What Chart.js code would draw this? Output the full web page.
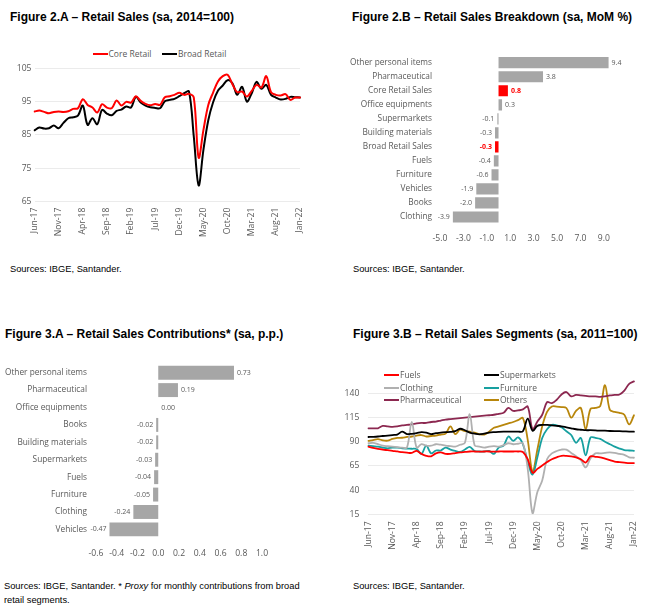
<!DOCTYPE html>
<html>
<head>
<meta charset="utf-8">
<script src="https://cdn.jsdelivr.net/npm/chart.js@4.4.1/dist/chart.umd.min.js"></script>
<style>
  body { margin: 0; background: #fff; width: 652px; height: 614px; position: relative; overflow: hidden; }
  .title { position: absolute; font: bold 12px "Liberation Sans", Arial, sans-serif; line-height: 14px; color: #000; white-space: nowrap; }
  .src { position: absolute; font: 9.3px "Liberation Sans", Arial, sans-serif; line-height: 14px; color: #000; white-space: nowrap; }
  canvas { position: absolute; }
  .lg { position: absolute; font: 8.5px "Open Sans", sans-serif; line-height: 12px; color: #595959; white-space: nowrap; }
  .lg i { display: inline-block; width: 15px; height: 2px; vertical-align: middle; margin-right: 1px; position: relative; top: -1px; }
</style>
</head>
<body>

<div class="title" style="left:10px; top:10px;">Figure 2.A – Retail Sales (sa, 2014=100)</div>
<div class="title" style="left:352px; top:10px;">Figure 2.B – Retail Sales Breakdown (sa, MoM %)</div>
<div class="title" style="left:5px; top:327px;">Figure 3.A – Retail Sales Contributions* (sa, p.p.)</div>
<div class="title" style="left:353px; top:327px;">Figure 3.B – Retail Sales Segments (sa, 2011=100)</div>

<canvas id="c2a" width="326" height="190" style="left:0; top:60px;"></canvas>
<canvas id="c2b" width="326" height="210" style="left:326px; top:40px;"></canvas>
<canvas id="c3a" width="326" height="220" style="left:0; top:350px;"></canvas>
<canvas id="c3b" width="326" height="200" style="left:326px; top:360px;"></canvas>

<div id="legends"></div>

<div class="src" style="left:10px; top:262px;">Sources: IBGE, Santander.</div>
<div class="src" style="left:353px; top:262px;">Sources: IBGE, Santander.</div>
<div class="src" style="left:4px; top:579px;">Sources: IBGE, Santander. * <i>Proxy</i> for monthly contributions from broad<br>retail segments.</div>
<div class="src" style="left:353px; top:579px;">Sources: IBGE, Santander.</div>

<script>
// ---- data ----
const months = [
  "Jun-17", "Jul-17", "Aug-17", "Sep-17", "Oct-17", "Nov-17", "Dec-17",
  "Jan-18", "Feb-18", "Mar-18", "Apr-18", "May-18", "Jun-18", "Jul-18", "Aug-18", "Sep-18", "Oct-18", "Nov-18", "Dec-18",
  "Jan-19", "Feb-19", "Mar-19", "Apr-19", "May-19", "Jun-19", "Jul-19", "Aug-19", "Sep-19", "Oct-19", "Nov-19", "Dec-19",
  "Jan-20", "Feb-20", "Mar-20", "Apr-20", "May-20", "Jun-20", "Jul-20", "Aug-20", "Sep-20", "Oct-20", "Nov-20", "Dec-20",
  "Jan-21", "Feb-21", "Mar-21", "Apr-21", "May-21", "Jun-21", "Jul-21", "Aug-21", "Sep-21", "Oct-21", "Nov-21", "Dec-21",
  "Jan-22"
];

// Figure 2.A
const coreRetail = [
  92.0, 92.3, 91.9, 91.5, 91.9, 92.0, 91.9,
  92.1, 92.8, 93.0, 95.7, 94.0, 93.2, 91.7, 94.2, 93.2, 93.0, 95.3, 93.8,
  94.9, 94.7, 96.6, 95.2, 94.3, 93.9, 94.3, 94.0, 96.3, 96.6, 97.0, 97.6,
  97.0, 97.3, 96.2, 78.2, 86.5, 94.0, 97.7, 101.0, 102.6, 103.0, 100.2, 97.8,
  98.0, 96.5, 98.2, 100.0, 99.2, 102.6, 97.8, 97.0, 96.8, 97.2, 95.5, 96.2,
  96.2
];
const broadRetail = [
  86.4, 87.2, 86.9, 87.0, 87.8, 87.0, 88.6,
  90.0, 90.3, 90.8, 93.8, 88.0, 90.0, 88.2, 92.5, 91.4, 90.9, 92.2, 92.6,
  93.5, 93.2, 96.4, 94.7, 93.8, 93.3, 93.1, 93.0, 95.1, 95.5, 95.8, 96.6,
  97.5, 98.0, 84.5, 69.9, 80.6, 89.4, 94.8, 98.2, 99.8, 101.4, 100.5, 97.0,
  99.4, 95.0, 97.5, 100.9, 98.8, 100.0, 97.0, 96.2, 95.6, 95.8, 96.4, 96.3,
  96.2
];
const ticks2A = [65, 75, 85, 95, 105];

// Figure 2.B
const breakdownCats = ["Other personal items", "Pharmaceutical", "Core Retail Sales", "Office equipments",
  "Supermarkets", "Building materials", "Broad Retail Sales", "Fuels", "Furniture", "Vehicles", "Books", "Clothing"];
const breakdownVals = [9.4, 3.8, 0.8, 0.3, -0.1, -0.3, -0.3, -0.4, -0.6, -1.9, -2.0, -3.9];
const breakdownHighlight = ["Core Retail Sales", "Broad Retail Sales"];
const ticks2B = [-5, -3, -1, 1, 3, 5, 7, 9];

// Figure 3.A
const contribCats = ["Other personal items", "Pharmaceutical", "Office equipments", "Books", "Building materials",
  "Supermarkets", "Fuels", "Furniture", "Clothing", "Vehicles"];
const contribVals = [0.73, 0.19, 0.00, -0.02, -0.02, -0.03, -0.04, -0.05, -0.24, -0.47];
const ticks3A = [-0.6, -0.4, -0.2, 0.0, 0.2, 0.4, 0.6, 0.8, 1.0];

// Figure 3.B
const fuels = [
  85.0, 83.8, 82.8, 82.0, 81.3, 80.6, 80.0,
  79.3, 78.8, 78.5, 80.7, 77.5, 75.5, 75.0, 78.0, 79.0, 77.5, 77.5, 78.3,
  79.0, 79.5, 80.0, 80.0, 79.8, 80.0, 80.0, 79.8, 80.0, 80.0, 80.0, 80.0,
  80.0, 79.5, 72.0, 58.0, 62.0, 65.5, 69.0, 72.0, 74.0, 75.5, 75.5, 75.0,
  74.0, 72.0, 68.5, 75.0, 74.5, 74.0, 72.5, 71.0, 69.5, 69.0, 68.5, 68.0,
  68.0
];
const supermarkets = [
  95.0, 95.2, 95.5, 96.0, 96.5, 97.0, 97.5,
  100.5, 98.0, 98.3, 99.0, 100.0, 99.5, 98.0, 99.0, 99.5, 100.0, 100.2, 101.0,
  103.5, 102.0, 99.5, 98.5, 97.8, 98.5, 99.5, 100.0, 100.3, 100.5, 100.5, 100.5,
  100.5, 101.0, 114.0, 101.5, 106.5, 107.5, 107.5, 107.0, 106.5, 106.0, 105.0, 104.0,
  103.0, 102.5, 102.0, 102.0, 101.8, 101.5, 101.5, 101.2, 101.0, 101.0, 100.8, 100.6,
  100.5
];
const clothing = [
  88.5, 89.0, 87.5, 86.0, 85.5, 85.0, 84.5,
  84.0, 84.0, 110.5, 84.0, 87.5, 86.0, 86.0, 87.5, 87.0, 86.0, 85.5, 85.0,
  87.0, 89.0, 118.5, 86.5, 85.0, 84.0, 85.0, 85.5, 85.0, 86.5, 88.5, 87.5,
  88.0, 88.5, 62.0, 16.0, 38.0, 50.0, 72.0, 78.0, 80.5, 82.0, 82.0, 78.5,
  75.0, 71.0, 63.5, 73.0, 78.0, 78.0, 78.5, 79.0, 78.5, 77.5, 76.5, 74.0,
  73.5
];
const furniture = [
  86.0, 85.5, 85.0, 84.0, 83.3, 84.0, 84.0,
  83.3, 83.0, 82.8, 82.5, 77.5, 86.0, 78.0, 81.0, 81.0, 84.0, 82.0, 80.5,
  79.5, 82.0, 84.8, 80.5, 80.0, 80.0, 80.5, 77.5, 84.0, 86.0, 95.5, 91.0,
  94.5, 87.5, 70.0, 56.0, 74.0, 94.0, 103.0, 107.5, 107.0, 105.0, 101.0, 97.0,
  89.0, 94.0, 76.0, 94.5, 94.0, 93.0, 90.0, 87.5, 85.0, 83.0, 81.5, 81.0,
  80.7
];
const pharmaceutical = [
  104.0, 104.0, 104.0, 106.5, 106.0, 105.5, 106.0,
  107.0, 107.5, 108.0, 109.0, 109.5, 109.5, 110.5, 111.0, 112.0, 113.0, 113.5, 114.0,
  114.5, 115.0, 115.5, 116.0, 116.5, 117.0, 117.5, 118.0, 119.0, 120.0, 125.0, 122.0,
  122.5, 123.5, 126.5, 103.0, 111.0, 118.0, 131.0, 130.0, 133.5, 139.0, 141.5, 137.0,
  138.5, 138.0, 137.5, 137.0, 137.0, 136.5, 137.0, 138.0, 138.5, 139.0, 143.0, 150.0,
  152.5
];
const others = [
  91.0, 91.8, 92.8, 91.5, 91.2, 93.0, 94.0,
  94.2, 95.0, 95.5, 96.5, 97.0, 95.5, 96.0, 96.5, 97.5, 98.5, 106.0, 98.0,
  102.5, 101.0, 100.5, 99.5, 98.0, 97.5, 100.5, 104.5, 106.0, 107.5, 109.0, 110.5,
  112.5, 114.5, 92.0, 59.0, 82.0, 106.0, 121.0, 126.5, 126.5, 126.0, 125.0, 115.0,
  122.0, 125.0, 103.0, 124.0, 125.0, 127.0, 148.5, 123.0, 121.0, 120.0, 118.0, 108.0,
  117.5
];
const ticks3B = [15, 40, 65, 90, 115, 140];

// ---- styling ----
Chart.defaults.font.family = '"Open Sans", sans-serif';
Chart.defaults.color = "#595959";
Chart.defaults.animation = false;

const GREY_BAR = "#a6a6a6";
const RED = "#ff0000";

function fixWidth(w) { return s => { s.width = w; }; }
function fixHeight(h) { return s => { s.height = h; }; }
function useTicks(list) { return s => { s.ticks = list.map(v => ({ value: v })); }; }

// value labels next to horizontal bars
const barLabels = {
  id: "barLabels",
  afterDatasetsDraw(chart, args, opts) {
    const ctx = chart.ctx;
    const ds = chart.data.datasets[0];
    const meta = chart.getDatasetMeta(0);
    ctx.save();
    ctx.textBaseline = "middle";
    meta.data.forEach((bar, i) => {
      const v = ds.data[i];
      const hot = opts.highlight && opts.highlight.includes(chart.data.labels[i]);
      ctx.fillStyle = hot ? RED : "#595959";
      ctx.font = (hot ? "bold " : "") + opts.size + 'px "Open Sans", sans-serif';
      const txt = v.toFixed(opts.decimals);
      if (v >= 0) {
        ctx.textAlign = "left";
        ctx.fillText(txt, bar.x + 3, bar.y);
      } else {
        ctx.textAlign = "right";
        ctx.fillText(txt, bar.x - 3, bar.y);
      }
    });
    ctx.restore();
  }
};

function lineChart(id, datasets, cfg) {
  return new Chart(document.getElementById(id), {
    type: "line",
    data: { labels: months, datasets: datasets },
    options: {
      responsive: false,
      layout: { padding: cfg.padding },
      elements: { point: { radius: 0 }, line: { tension: 0.35, borderCapStyle: "round" } },
      plugins: { legend: { display: false }, tooltip: { enabled: false } },
      scales: {
        x: {
          type: "category",
          offset: false,
          grid: { display: false, drawTicks: false },
          border: { display: false },
          afterFit: fixHeight(cfg.xHeight),
          ticks: {
            autoSkip: false, minRotation: 90, maxRotation: 90, padding: cfg.xPad,
            font: { size: 8.6 },
            callback: function (v, i) { return i % 5 === 0 ? this.getLabelForValue(v) : ""; }
          }
        },
        y: {
          min: cfg.min, max: cfg.max,
          grid: { color: "#ebebeb", drawTicks: false },
          border: { display: false },
          afterFit: fixWidth(cfg.yWidth),
          afterBuildTicks: useTicks(cfg.ticks),
          ticks: { padding: cfg.yPad, font: { size: 8.6 } }
        }
      }
    }
  });
}

function barChart(id, cats, vals, cfg) {
  return new Chart(document.getElementById(id), {
    type: "bar",
    data: {
      labels: cats,
      datasets: [{
        data: vals,
        backgroundColor: cats.map(c => (cfg.highlight || []).includes(c) ? RED : GREY_BAR),
        barPercentage: 0.8,
        categoryPercentage: 1.0
      }]
    },
    options: {
      indexAxis: "y",
      responsive: false,
      layout: { padding: cfg.padding },
      plugins: {
        legend: { display: false }, tooltip: { enabled: false },
        barLabels: { decimals: cfg.decimals, size: 7, highlight: cfg.highlight }
      },
      scales: {
        x: {
          min: cfg.min, max: cfg.max,
          grid: { display: false, drawTicks: false },
          border: { display: false },
          afterFit: fixHeight(cfg.xHeight),
          afterBuildTicks: useTicks(cfg.ticks),
          ticks: { padding: cfg.xPad, autoSkip: false, minRotation: 0, maxRotation: 0,
                   font: { size: 8.6 }, callback: v => v.toFixed(1) }
        },
        y: {
          grid: { display: false, drawTicks: false },
          border: { display: false },
          afterFit: fixWidth(cfg.yWidth),
          ticks: { padding: cfg.yPad, autoSkip: false, font: { size: 8.3 } }
        }
      }
    },
    plugins: [barLabels]
  });
}

// Figure 2.A
lineChart("c2a", [
  { label: "Core Retail", data: coreRetail, borderColor: RED, borderWidth: 2 },
  { label: "Broad Retail", data: broadRetail, borderColor: "#000000", borderWidth: 2 }
], { padding: { top: 5, right: 26, left: 0, bottom: 0 }, xHeight: 48.3, yWidth: 34.5,
     xPad: 6, yPad: 3, min: 65, max: 105, ticks: ticks2A });

// Figure 2.B
barChart("c2b", breakdownCats, breakdownVals, {
  padding: { top: 15.7, right: 36.4, left: 0, bottom: 0 }, xHeight: 26, yWidth: 114,
  xPad: 9, yPad: 8, min: -5, max: 10, ticks: ticks2B, decimals: 1, highlight: breakdownHighlight
});

// Figure 3.A
barChart("c3a", contribCats, contribVals, {
  padding: { top: 12.9, right: 64, left: 0, bottom: 0 }, xHeight: 31.9, yWidth: 96,
  xPad: 10, yPad: 9, min: -0.6, max: 1.0, ticks: ticks3A, decimals: 2
});

// Figure 3.B
const segNames = ["Fuels", "Supermarkets", "Clothing", "Furniture", "Pharmaceutical", "Others"];
const segColors = ["#ff0000", "#000000", "#b0b0b0", "#17a0a0", "#8c2850", "#b8860b"];
const segData = [fuels, supermarkets, clothing, furniture, pharmaceutical, others];
lineChart("c3b", segData.map((d, i) => ({
  label: segNames[i], data: d, borderColor: segColors[i], borderWidth: 1.8
})), { padding: { top: 12.4, right: 18, left: 0, bottom: 0 }, xHeight: 45.7, yWidth: 42.3,
       xPad: 7, yPad: 9, min: 15, max: 160, ticks: ticks3B });

// legends (HTML)
function legendItem(x, y, name, color) {
  const el = document.createElement("div");
  el.className = "lg";
  el.style.left = x + "px";
  el.style.top = (y - 6) + "px";
  el.innerHTML = '<i style="background:' + color + '"></i>' + name;
  document.getElementById("legends").appendChild(el);
}
legendItem(92.5, 54.3, "Core Retail", RED);
legendItem(162, 54.3, "Broad Retail", "#000000");
const segCols = [384, 484];
const segRows = [375, 388, 400];
segNames.forEach((n, i) => legendItem(segCols[i % 2], segRows[Math.floor(i / 2)], n, segColors[i]));
</script>
</body>
</html>
